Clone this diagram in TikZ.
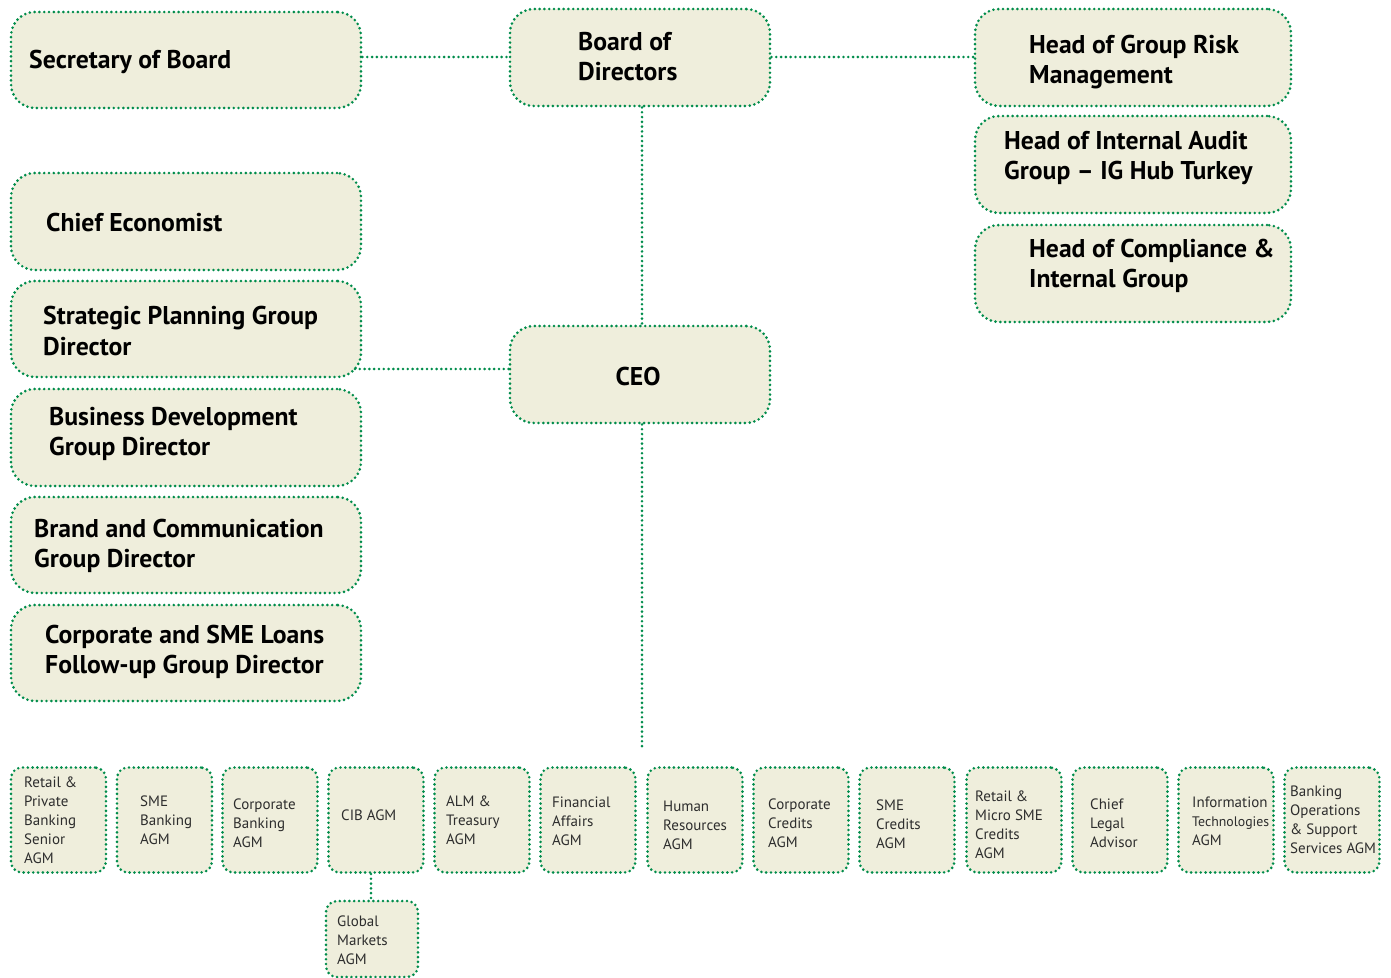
\documentclass[tikz,border=0pt]{standalone}
\usepackage{fontspec}
\setmainfont{PT Sans}
\definecolor{bnpgreen}{RGB}{0,140,75}
\definecolor{boxfill}{RGB}{239,238,220}
\definecolor{smalltext}{RGB}{45,45,45}
\begin{document}
\begin{tikzpicture}[x=1pt,y=-1pt,
  dotline/.style={draw=bnpgreen,line width=2.9pt,dash pattern=on 0pt off 4.8pt,line cap=round},
  bigbox/.style={dotline,fill=boxfill,rounded corners=24pt,inner sep=0pt},
  smallbox/.style={dotline,fill=boxfill,rounded corners=11pt,inner sep=0pt,minimum width=95pt,minimum height=105pt},
  bigtxt/.style={anchor=west,inner sep=0pt,align=left,font=\fontsize{25.7}{30}\selectfont\bfseries},
  smalltxt/.style={anchor=west,inner sep=0pt,align=left,text=smalltext,font=\fontsize{15}{19}\selectfont}]
\useasboundingbox (0,0) rectangle (1391,977);
% big boxes
\node[bigbox,minimum width=350pt,minimum height=96pt] (sec) at (186,60) {};
\node[bigbox,minimum width=260pt,minimum height=97pt] (bod) at (640,57.5) {};
\node[bigbox,minimum width=316pt,minimum height=97pt] (risk) at (1133,57.5) {};
\node[bigbox,minimum width=316pt,minimum height=97pt] (audit) at (1133,164.5) {};
\node[bigbox,minimum width=316pt,minimum height=97pt] (comp) at (1133,273.5) {};
\node[bigbox,minimum width=350pt,minimum height=97pt] (econ) at (186,221.5) {};
\node[bigbox,minimum width=350pt,minimum height=96pt] (strat) at (186,329) {};
\node[bigbox,minimum width=350pt,minimum height=97pt] (busdev) at (186,437.5) {};
\node[bigbox,minimum width=350pt,minimum height=96pt] (brand) at (186,545) {};
\node[bigbox,minimum width=350pt,minimum height=96pt] (loans) at (186,653) {};
\node[bigbox,minimum width=260pt,minimum height=97pt] (ceo) at (640,374.5) {};
% big texts
\node[bigtxt] (sect) at (29,62) {Secretary of Board};
\node[bigtxt] (bodt) at (578,57) {Board of\\Directors};
\node[bigtxt] (riskt) at (1029,62) {Head of Group Risk\\Management};
\node[bigtxt] (auditt) at (1004,158) {Head of Internal Audit\\Group – IG Hub Turkey};
\node[bigtxt] (compt) at (1029,266) {Head of Compliance \&\\Internal Group};
\node[bigtxt] (econt) at (46,223) {Chief Economist};
\node[bigtxt] (stratt) at (43,331) {Strategic Planning Group\\Director};
\node[bigtxt] (busdevt) at (49,434) {Business Development\\Group Director};
\node[bigtxt] (brandt) at (34,546) {Brand and Communication\\Group Director};
\node[bigtxt] (loanst) at (45,652) {Corporate and SME Loans\\Follow-up Group Director};
\node[bigtxt,anchor=center] (ceot) at (638,376) {CEO};
% small boxes
\node[smallbox] (b1) at (58.5,820) {};
\node[smallbox] (b2) at (164.5,820) {};
\node[smallbox] (b3) at (270,820) {};
\node[smallbox] (b4) at (376,820) {};
\node[smallbox] (b5) at (482,820) {};
\node[smallbox] (b6) at (588,820) {};
\node[smallbox] (b7) at (695,820) {};
\node[smallbox] (b8) at (801,820) {};
\node[smallbox] (b9) at (907,820) {};
\node[smallbox] (b10) at (1014,820) {};
\node[smallbox] (b11) at (1120,820) {};
\node[smallbox] (b12) at (1226,820) {};
\node[smallbox] (b13) at (1332,820) {};
\node[smallbox,minimum width=92pt,minimum height=76pt] (gm) at (372,939) {};
% small texts
\node[smalltxt] (t1) at (24,820) {Retail \&\\Private\\Banking\\Senior\\AGM};
\node[smalltxt] (t2) at (140,820) {SME\\Banking\\AGM};
\node[smalltxt] (t3) at (233,823) {Corporate\\Banking\\AGM};
\node[smalltxt] (t4) at (341,815) {CIB AGM};
\node[smalltxt] (t5) at (446,820) {ALM \&\\Treasury\\AGM};
\node[smalltxt] (t6) at (552,821) {Financial\\Affairs\\AGM};
\node[smalltxt] (t7) at (663,825) {Human\\Resources\\AGM};
\node[smalltxt] (t8) at (768,823) {Corporate\\Credits\\AGM};
\node[smalltxt] (t9) at (876,824) {SME\\Credits\\AGM};
\node[smalltxt] (t10) at (975,825) {Retail \&\\Micro SME\\Credits\\AGM};
\node[smalltxt] (t11) at (1090,823) {Chief\\Legal\\Advisor};
\node[smalltxt] (t12) at (1192,821) {Information\\\hbox to 77pt{\resizebox{77pt}{!}{Technologies}}\\AGM};
\node[smalltxt] (t13) at (1290,820) {Banking\\Operations\\\& Support\\Services AGM};
\node[smalltxt] (tgm) at (337,940) {Global\\Markets\\AGM};
% connectors
\coordinate (stratend) at (353,369);
\coordinate (ceoend) at (642,750);
\draw[dotline] (sec.east |- 0,57) -- (bod.west |- 0,57);
\draw[dotline] (bod.east |- 0,57) -- (risk.west |- 0,57);
\draw[dotline] (bod.south -| 642,0) -- (ceo.north -| 642,0);
\draw[dotline] (ceo.west |- stratend) -- (stratend);
\draw[dotline] (ceo.south -| ceoend) -- (ceoend);
\draw[dotline] (b4.south -| 371,0) -- (gm.north -| 371,0);
\end{tikzpicture}
\end{document}
